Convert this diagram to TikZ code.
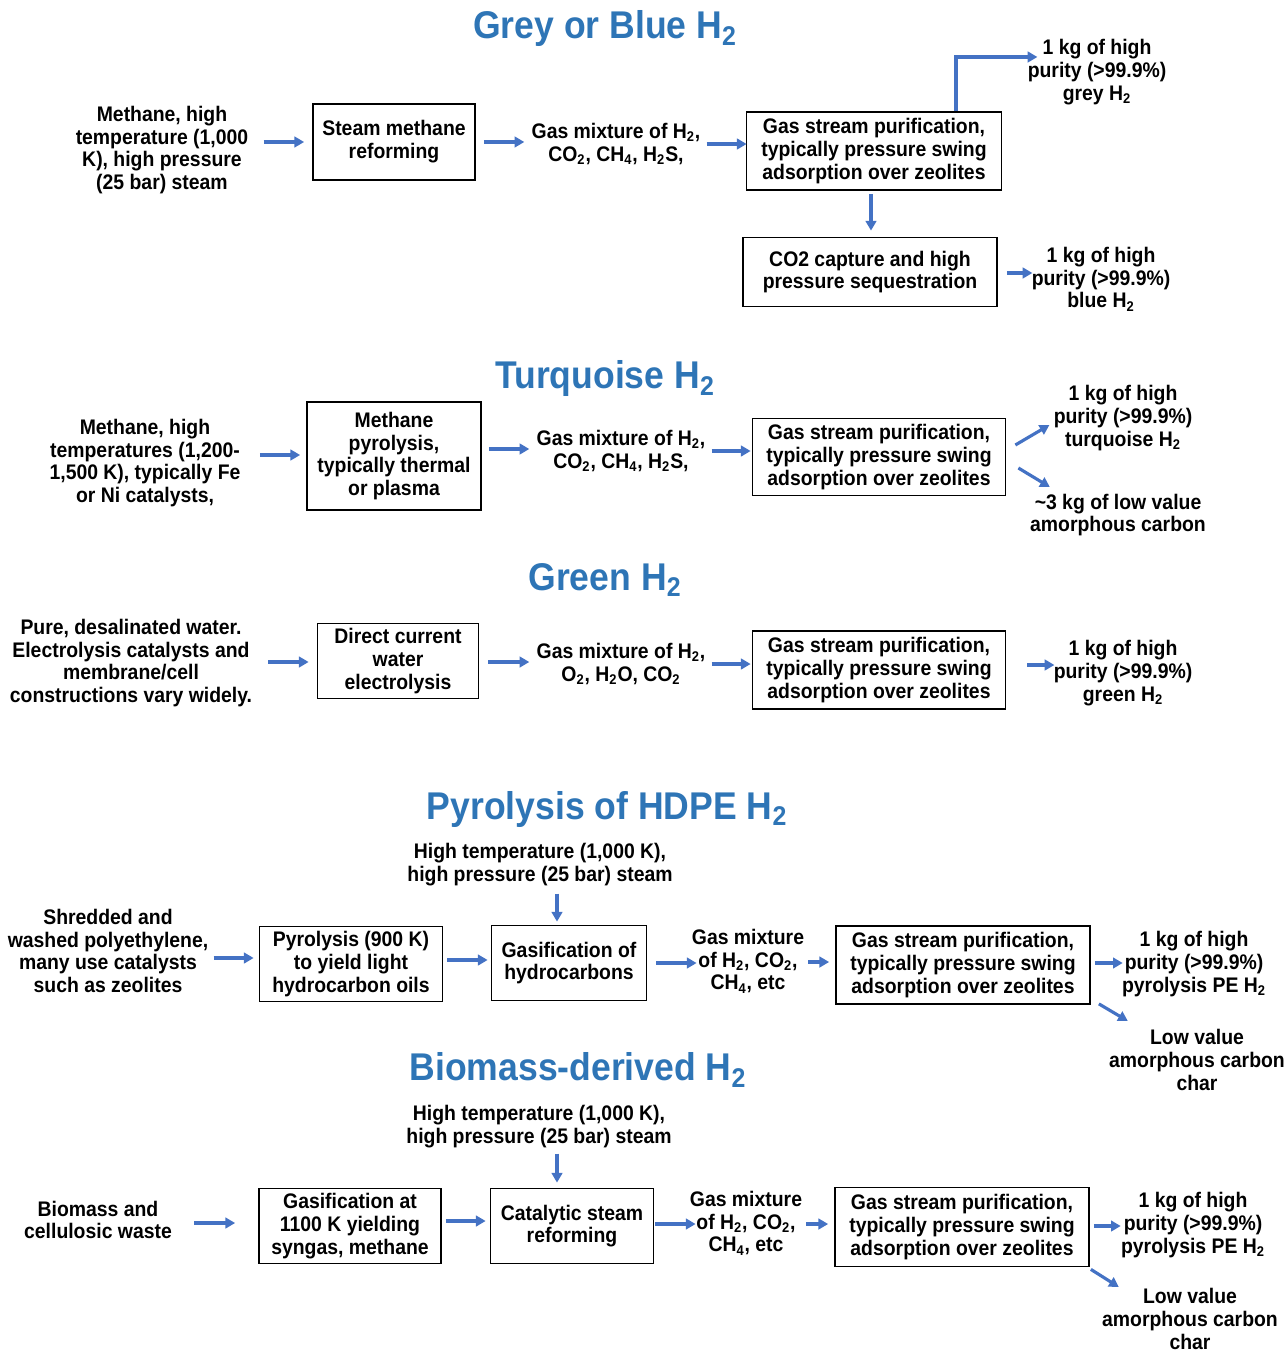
\documentclass[tikz,border=0pt]{standalone}
\usepackage{fontspec}
\setmainfont{Liberation Sans}[FakeStretch=0.92]
\usepackage{tikz}
\usetikzlibrary{arrows.meta}
\definecolor{titleblue}{HTML}{2E75B6}
\definecolor{arrowblue}{HTML}{4472C4}

\begin{document}
\begin{tikzpicture}[x=0.02cm, y=-0.02cm,
    bodyfont/.style={font=\fontsize{12}{13}\selectfont\bfseries},
    txt/.style={bodyfont, align=center, inner sep=0pt},
    procbox/.style={bodyfont, draw, line width=1pt, align=center, inner sep=2pt},
    ttl/.style={font=\fontsize{22}{24}\selectfont\bfseries, text=titleblue},
    flow/.style={draw=arrowblue, line width=1.8pt, -{Triangle[length=5.5pt,width=6pt]}}]
    \useasboundingbox (0,0) rectangle (1286,1354);

    % Grey or Blue H2
    \node [ttl] (t1) at (605,29) {Grey or Blue H\textsubscript{2}};
    \node [txt] (in1) at (162,150) {Methane, high\\temperature (1,000\\K), high pressure\\(25 bar) steam};
    \node [procbox, minimum width=3.24cm, minimum height=1.52cm] (smr) at (394,142) {Steam methane\\reforming};
    \node [txt] (mix1) at (616,144) {Gas mixture of H\textsubscript{2},\\CO\textsubscript{2}, CH\textsubscript{4}, H\textsubscript{2}S,};
    \node [procbox, minimum width=5.1cm, minimum height=1.56cm] (pur1) at (874,151) {Gas stream purification,\\typically pressure swing\\adsorption over zeolites};
    \node [txt] (grey) at (1097,72) {1 kg of high\\purity (>99.9\%)\\grey H\textsubscript{2}};
    \node [procbox, minimum width=5.08cm, minimum height=1.38cm] (ccs) at (870,272) {CO2 capture and high\\pressure sequestration};
    \node [txt] (blue) at (1101,279) {1 kg of high\\purity (>99.9\%)\\blue H\textsubscript{2}};
    \draw [flow] ([shift={(15,-8)}]in1.east) -- ([shift={(-8,0)}]smr.west);
    \draw [flow] ([shift={(8,0)}]smr.east) -- ([shift={(-7,-2)}]mix1.west);
    \draw [flow] ([shift={(6,0)}]mix1.east) -- ([shift={(1,-7)}]pur1.west);
    \draw [flow] ([shift={(82,0)}]pur1.north) |- ([shift={(10,-15)}]grey.west);
    \draw [flow] ([shift={(-3,3)}]pur1.south) -- ([shift={(1,-6)}]ccs.north);
    \draw [flow] ([shift={(9,1)}]ccs.east) -- ([shift={(1,-6)}]blue.west);

    % Turquoise H2
    \node [ttl] (t2) at (605,379) {Turquoise H\textsubscript{2}};
    \node [txt] (in2) at (145,463) {Methane, high\\temperatures (1,200-\\1,500 K), typically Fe\\or Ni catalysts,};
    \node [procbox, minimum width=3.48cm, minimum height=2.16cm] (pyr) at (394,456) {Methane\\pyrolysis,\\typically thermal\\or plasma};
    \node [txt] (mix2) at (621,451) {Gas mixture of H\textsubscript{2},\\CO\textsubscript{2}, CH\textsubscript{4}, H\textsubscript{2}S,};
    \node [procbox, minimum width=5.06cm, minimum height=1.54cm] (pur2) at (879,457) {Gas stream purification,\\typically pressure swing\\adsorption over zeolites};
    \node [txt] (turq) at (1123,418) {1 kg of high\\purity (>99.9\%)\\turquoise H\textsubscript{2}};
    \node [txt] (carb2) at (1118,515) {\textasciitilde3 kg of low value\\amorphous carbon};
    \draw [flow] ([shift={(19,-8)}]in2.east) -- ([shift={(-6,-1)}]pyr.west);
    \draw [flow] ([shift={(7,-7)}]pyr.east) -- ([shift={(-7,-2)}]mix2.west);
    \draw [flow] ([shift={(6,0)}]mix2.east) -- ([shift={(-1,-6)}]pur2.west);
    \draw [flow] ([shift={(9,-12)}]pur2.east) -- ([shift={(-4,7)}]turq.west);
    \draw [flow] ([shift={(12,11)}]pur2.east) -- ([shift={(20,-28)}]carb2.west);

    % Green H2
    \node [ttl] (t3) at (605,580) {Green H\textsubscript{2}};
    \node [txt] (in3) at (131,663) {Pure, desalinated water.\\Electrolysis catalysts and\\membrane/cell\\constructions vary widely.};
    \node [procbox, minimum width=3.22cm, minimum height=1.5cm] (elec) at (398,661) {Direct current\\water\\electrolysis};
    \node [txt] (mix3) at (621,664) {Gas mixture of H\textsubscript{2},\\O\textsubscript{2}, H\textsubscript{2}O, CO\textsubscript{2}};
    \node [procbox, minimum width=5.06cm, minimum height=1.56cm] (pur3) at (879,670) {Gas stream purification,\\typically pressure swing\\adsorption over zeolites};
    \node [txt] (green) at (1123,673) {1 kg of high\\purity (>99.9\%)\\green H\textsubscript{2}};
    \draw [flow] ([shift={(16,-1)}]in3.east) -- ([shift={(-8,1)}]elec.west);
    \draw [flow] ([shift={(9,1)}]elec.east) -- ([shift={(-7,-2)}]mix3.west);
    \draw [flow] ([shift={(6,0)}]mix3.east) -- ([shift={(-1,-6)}]pur3.west);
    \draw [flow] ([shift={(21,-5)}]pur3.east) -- ([shift={(1,-8)}]green.west);

    % Pyrolysis of HDPE H2
    \node [ttl] (t4) at (607,809) {Pyrolysis of HDPE H\textsubscript{2}};
    \node [txt] (steam4) at (540,865) {High temperature (1,000 K),\\high pressure (25 bar) steam};
    \node [txt] (in4) at (108,951) {Shredded and\\washed polyethylene,\\many use catalysts\\such as zeolites};
    \node [procbox, minimum width=3.66cm, minimum height=1.5cm] (hdpe) at (351,964) {Pyrolysis (900 K)\\to yield light\\hydrocarbon oils};
    \node [procbox, minimum width=3.1cm, minimum height=1.5cm] (gasi) at (569,963) {Gasification of\\hydrocarbons};
    \node [txt] (mix4) at (748,961) {Gas mixture\\of H\textsubscript{2}, CO\textsubscript{2},\\CH\textsubscript{4}, etc};
    \node [procbox, minimum width=5.08cm, minimum height=1.56cm] (pur4) at (963,965) {Gas stream purification,\\typically pressure swing\\adsorption over zeolites};
    \node [txt] (pe4) at (1194,964) {1 kg of high\\purity (>99.9\%)\\pyrolysis PE H\textsubscript{2}};
    \node [txt] (char4) at (1197,1060) {Low value\\amorphous carbon\\char};
    \draw [flow] ([shift={(17,7)}]steam4.south) -- ([shift={(-12,-3)}]gasi.north);
    \draw [flow] ([shift={(5,7)}]in4.east) -- ([shift={(-5,-6)}]hdpe.west);
    \draw [flow] ([shift={(4,-4)}]hdpe.east) -- ([shift={(-3,-3)}]gasi.west);
    \draw [flow] ([shift={(9,0)}]gasi.east) -- ([shift={(5,2)}]mix4.west);
    \draw [flow] ([shift={(4,1)}]mix4.east) -- ([shift={(-6,-3)}]pur4.west);
    \draw [flow] ([shift={(4,-2)}]pur4.east) -- ([shift={(1,-1)}]pe4.west);
    \draw [flow] ([shift={(8,-1)}]pur4.south east) -- ([shift={(19,-39)}]char4.west);

    % Biomass-derived H2
    \node [ttl] (t5) at (578,1070) {Biomass-derived H\textsubscript{2}};
    \node [txt] (steam5) at (539,1127) {High temperature (1,000 K),\\high pressure (25 bar) steam};
    \node [txt] (in5) at (98,1220) {Biomass and\\cellulosic waste};
    \node [procbox, minimum width=3.64cm, minimum height=1.5cm] (bgas) at (350,1226) {Gasification at\\1100 K yielding\\syngas, methane};
    \node [procbox, minimum width=3.26cm, minimum height=1.5cm] (csr) at (572,1226) {Catalytic steam\\reforming};
    \node [txt] (mix5) at (746,1223) {Gas mixture\\of H\textsubscript{2}, CO\textsubscript{2},\\CH\textsubscript{4}, etc};
    \node [procbox, minimum width=5.08cm, minimum height=1.58cm] (pur5) at (962,1227) {Gas stream purification,\\typically pressure swing\\adsorption over zeolites};
    \node [txt] (pe5) at (1193,1225) {1 kg of high\\purity (>99.9\%)\\pyrolysis PE H\textsubscript{2}};
    \node [txt] (char5) at (1190,1319) {Low value\\amorphous carbon\\char};
    \draw [flow] ([shift={(18,5)}]steam5.south) -- ([shift={(-15,-5)}]csr.north);
    \draw [flow] ([shift={(22,3)}]in5.east) -- ([shift={(-23,-3)}]bgas.west);
    \draw [flow] ([shift={(4,-5)}]bgas.east) -- ([shift={(-4,-5)}]csr.west);
    \draw [flow] ([shift={(1,-2)}]csr.east) -- ([shift={(6,1)}]mix5.west);
    \draw [flow] ([shift={(4,1)}]mix5.east) -- ([shift={(-6,-3)}]pur5.west);
    \draw [flow] ([shift={(4,-1)}]pur5.east) -- ([shift={(0,1)}]pe5.west);
    \draw [flow] ([shift={(1,2)}]pur5.south east) -- ([shift={(17,-32)}]char5.west);
\end{tikzpicture}
\end{document}
